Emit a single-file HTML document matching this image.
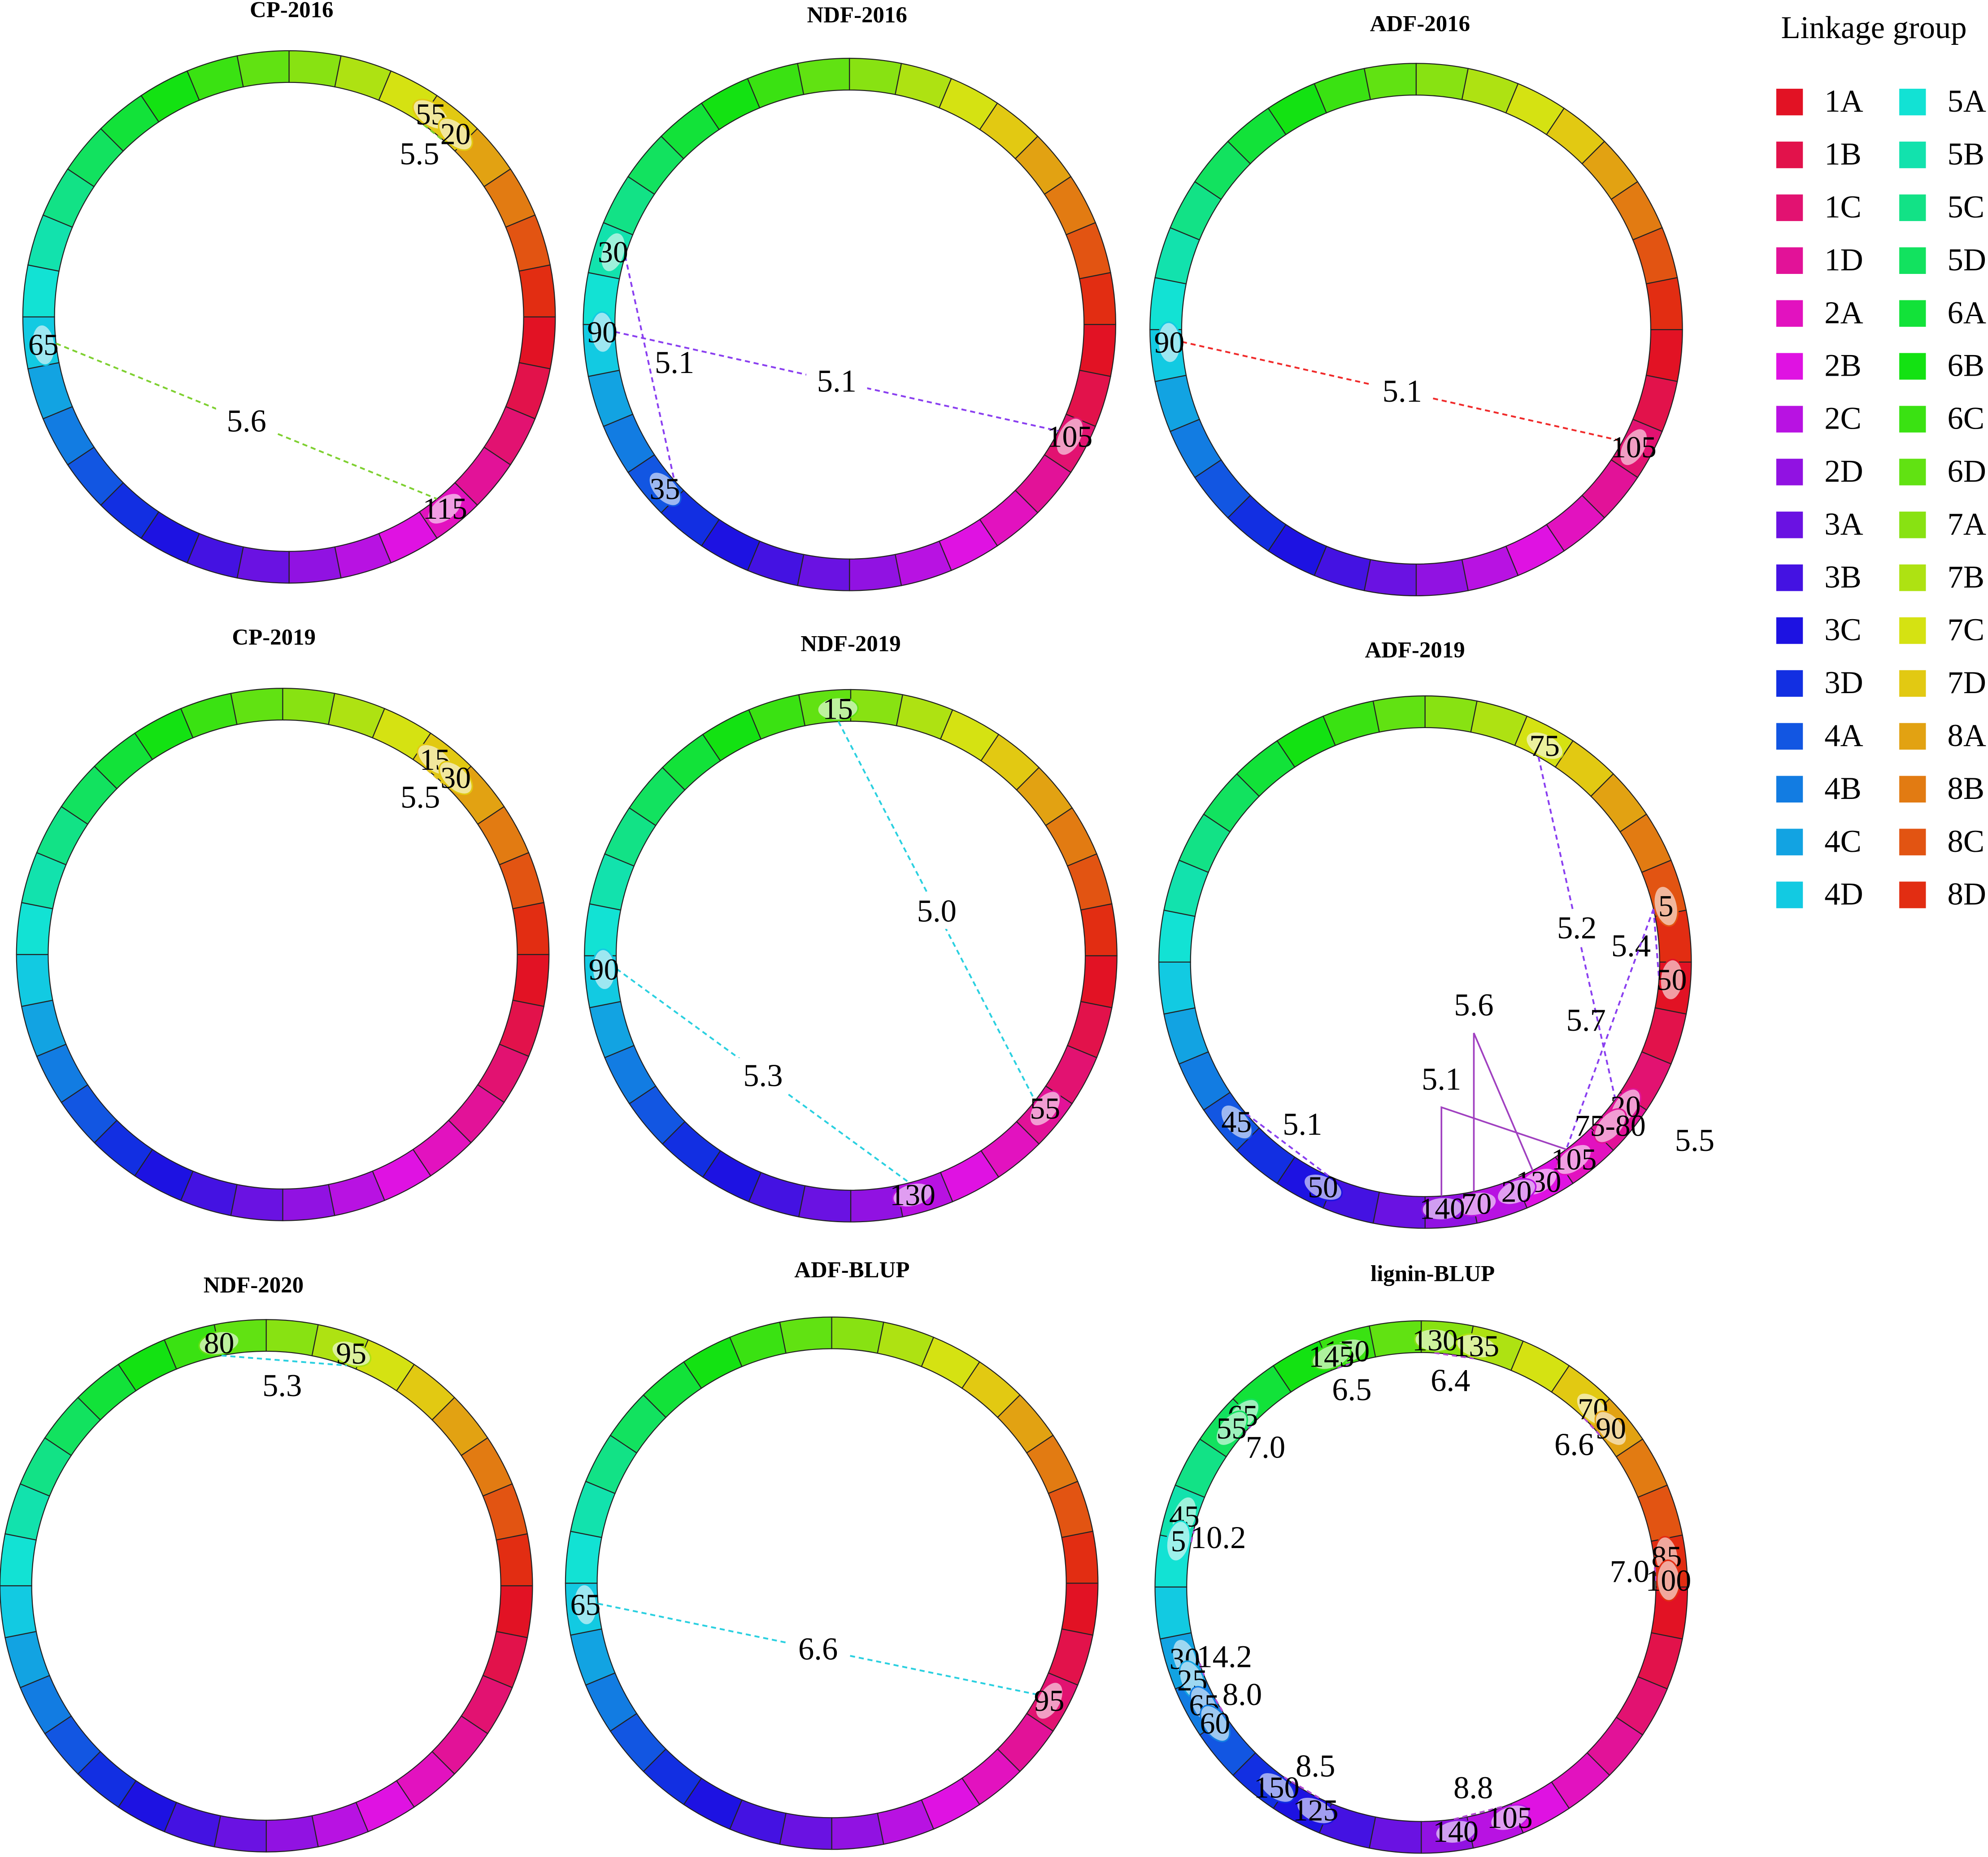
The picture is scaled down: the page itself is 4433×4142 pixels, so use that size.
<!DOCTYPE html>
<html><head><meta charset="utf-8"><style>
html,body{margin:0;padding:0;background:#fff;}
svg{display:block;}
text{font-family:"Liberation Serif",serif;fill:#000;}
</style></head><body>
<svg id="chart" xmlns="http://www.w3.org/2000/svg" width="4433" height="4142" viewBox="0 0 1568 1465" preserveAspectRatio="none"></svg>
<script>
const chromosomes = ['1A','1B','1C','1D','2A','2B','2C','2D','3A','3B','3C','3D','4A','4B','4C','4D','5A','5B','5C','5D','6A','6B','6C','6D','7A','7B','7C','7D','8A','8B','8C','8D'];
const plotTitles = ['CP-2016','NDF-2016','ADF-2016','CP-2019','NDF-2019','ADF-2019','NDF-2020','ADF-BLUP','lignin-BLUP'];
// markers: [label, angle in degrees clockwise from 3 o'clock]
const cp2016Markers = [['65',173.5],['115',50.9],['55',305],['20',312.3]];
const cp2016Links = [[0,1,'5.6'],[2,3,'5.5']];
const ndf2016Markers = [['30',197],['90',178.2],['35',138.3],['105',27]];
const ndf2016Links = [[0,2,'5.1'],[1,3,'5.1']];
const adf2016Markers = [['90',177],['105',28.4]];
const adf2016Links = [[0,1,'5.1']];
const cp2019Markers = [['15',308],['30',314.4]];
const cp2019Links = [[0,1,'5.5']];
const ndf2019Markers = [['15',267],['55',38.2],['90',176.8],['130',75.5]];
const ndf2019Links = [[0,1,'5.0'],[2,3,'5.3']];
const adf2019Markers = [['75',298.9],['5',346.9],['50',4.1],['20',35.8],['75-80',41.5],['105',53],['130',62.7],['20',68.3],['70',78],['140',86],['50',114.4],['45',139.7]];
const adf2019Links = [[0,3,'5.2'],[1,2,'5.4'],[1,5,'5.7'],[11,10,'5.1'],[4,4,'5.5']];
const adf2019BracketLinks = [[8,6,'5.6'],[9,5,'5.1']];
const ndf2020Markers = [['80',259],['95',290.1]];
const ndf2020Links = [[0,1,'5.3']];
const adfBlupMarkers = [['65',175],['95',28.4]];
const adfBlupLinks = [[0,1,'6.6']];
const ligninMarkers = [['150',252.5],['145',248.7],['130',273.2],['135',282.9],['65',223.8],['55',219.9],['70',314],['90',320.1],['45',196.6],['5',190.7],['85',353],['100',358.5],['30',163.1],['25',157.8],['65',151.4],['60',146.5],['150',125.8],['125',115.3],['140',82],['105',69]];
const ligninLinks = [[0,1,'6.5'],[2,3,'6.4'],[4,5,'7.0'],[6,7,'6.6'],[8,9,'10.2'],[10,11,'7.0'],[12,13,'14.2'],[14,15,'8.0'],[16,17,'8.5'],[18,19,'8.8']];

const NS='http://www.w3.org/2000/svg';
const svg=document.getElementById('chart');
function mk(tag,attrs,parent){const e=document.createElementNS(NS,tag);for(const k in attrs)e.setAttribute(k,attrs[k]);(parent||svg).appendChild(e);return e;}
function hue(i){return (355-i*11.2+360)%360;}
function col(i){return 'hsl('+hue(i)+',85%,48%)';}
function colL(i){return 'hsl('+hue(i)+',75%,78%)';}
const RIN=185,ROUT=210,RM=195;
const bracketRise=[125,70];
const layout=[
 {cx:228,cy:250,tx:230,ty:8,m:cp2016Markers,l:cp2016Links,c:'#7ed030'},
 {cx:670,cy:256,tx:676,ty:12,m:ndf2016Markers,l:ndf2016Links,c:'#8a3ff0'},
 {cx:1117,cy:260,tx:1120,ty:19,m:adf2016Markers,l:adf2016Links,c:'#f02a2a'},
 {cx:223,cy:753,tx:216,ty:503,m:cp2019Markers,l:cp2019Links,c:'#e0c020'},
 {cx:671,cy:754,tx:671,ty:508,m:ndf2019Markers,l:ndf2019Links,c:'#2ad0e0'},
 {cx:1124,cy:759,tx:1116,ty:513,m:adf2019Markers,l:adf2019Links,c:'#8a3ff0',b:adf2019BracketLinks},
 {cx:210,cy:1251,tx:200,ty:1014,m:ndf2020Markers,l:ndf2020Links,c:'#2ad0e0'},
 {cx:656,cy:1249,tx:672,ty:1002,m:adfBlupMarkers,l:adfBlupLinks,c:'#2ad0e0'},
 {cx:1121,cy:1252,tx:1130,ty:1005,m:ligninMarkers,l:ligninLinks,c:'#b04ad0'}
];
function pt(cx,cy,a,r){const t=a*Math.PI/180;return [cx+r*Math.cos(t),cy+r*Math.sin(t)];}
layout.forEach((P,pi)=>{
 const g=mk('g',{});
 
 
 const t=mk('text',{x:P.tx,y:P.ty,'text-anchor':'middle','dominant-baseline':'central','font-size':18,'font-weight':'bold'},g);
 t.textContent=plotTitles[pi];
 
 
 const step=360/chromosomes.length;
 chromosomes.forEach((c,i)=>{
  const a0=i*step,a1=(i+1)*step;
  const p0=pt(P.cx,P.cy,a0,ROUT),p1=pt(P.cx,P.cy,a1,ROUT),p2=pt(P.cx,P.cy,a1,RIN),p3=pt(P.cx,P.cy,a0,RIN);
  const d='M'+p0+' A'+ROUT+' '+ROUT+' 0 0 1 '+p1+' L'+p2+' A'+RIN+' '+RIN+' 0 0 0 '+p3+' Z';
  const s=mk('path',{d:d,fill:col(i),stroke:'#222','stroke-width':0.8},g);
  
  
 });
 P.l.forEach(L=>{
  const A=P.m[L[0]],B=P.m[L[1]];
  const pa=pt(P.cx,P.cy,A[1],RIN),pb=pt(P.cx,P.cy,B[1],RIN);
  let mx=(pa[0]+pb[0])/2,my=(pa[1]+pb[1])/2;
  const dx0=mx-P.cx,dy0=my-P.cy,rm=Math.hypot(dx0,dy0);
  let nearRing=false;
  if(L[0]===L[1]){const q=pt(P.cx,P.cy,A[1]-8,255);mx=q[0];my=q[1];nearRing=true;}
  else if(rm>150){const f=(rm-20)/rm;mx=P.cx+dx0*f;my=P.cy+dy0*f;nearRing=true;}
  if(L[0]!==L[1]){
   const ln=mk('line',{x1:pa[0],y1:pa[1],x2:pb[0],y2:pb[1],stroke:P.c,'stroke-width':1.4,'stroke-dasharray':'4,3'},g);
   
   
   if(!nearRing){const bg=mk('rect',{x:mx-24,y:my-14,width:48,height:28,fill:'#fff'},g);
    
    }
  }
  const lt=mk('text',{x:mx,y:my,'text-anchor':'middle','dominant-baseline':'central','font-size':25},g);
  lt.textContent=L[2];
  
  
 });
 (P.b||[]).forEach((L,bi)=>{
  const A=P.m[L[0]],B=P.m[L[1]];
  const pa=pt(P.cx,P.cy,A[1],RIN),pb=pt(P.cx,P.cy,B[1],RIN);
  const apex=[pa[0],pa[1]-bracketRise[bi]];
  const pl=mk('polyline',{points:pa+' '+apex+' '+pb,fill:'none',stroke:'#a040c0','stroke-width':1.3},g);
  
  
  const lt=mk('text',{x:apex[0],y:apex[1]-22,'text-anchor':'middle','dominant-baseline':'central','font-size':25},g);
  lt.textContent=L[2];
  
  
 });
 P.m.forEach(M=>{
  const p=pt(P.cx,P.cy,M[1],RM);
  const ci=Math.floor(((M[1]%360)+360)%360/step);
  const e=mk('ellipse',{cx:p[0],cy:p[1],rx:16,ry:9,fill:colL(ci),stroke:col(ci),'stroke-width':1.2,transform:'rotate('+(M[1]+90)+' '+p[0]+' '+p[1]+')'},g);
  
  
  const tx=mk('text',{x:p[0],y:p[1],'text-anchor':'middle','dominant-baseline':'central','font-size':24},g);
  tx.textContent=M[0];
  
  
 });
});
// legend
const lg=mk('g',{});


const lt=mk('text',{x:1478,y:22,'text-anchor':'middle','dominant-baseline':'central','font-size':25},lg);
lt.textContent='Linkage group';


chromosomes.forEach((c,i)=>{
 const colx=i<16?0:1,row=i%16;
 const x=colx?1498:1401,y=80+row*41.7;
 const r=mk('rect',{x:x,y:y-10,width:21,height:21,fill:col(i)},lg);
 
 
 const t=mk('text',{x:x+38,y:y,'dominant-baseline':'central','font-size':25},lg);
 t.textContent=c;
 
 
});
</script>
</body></html>
